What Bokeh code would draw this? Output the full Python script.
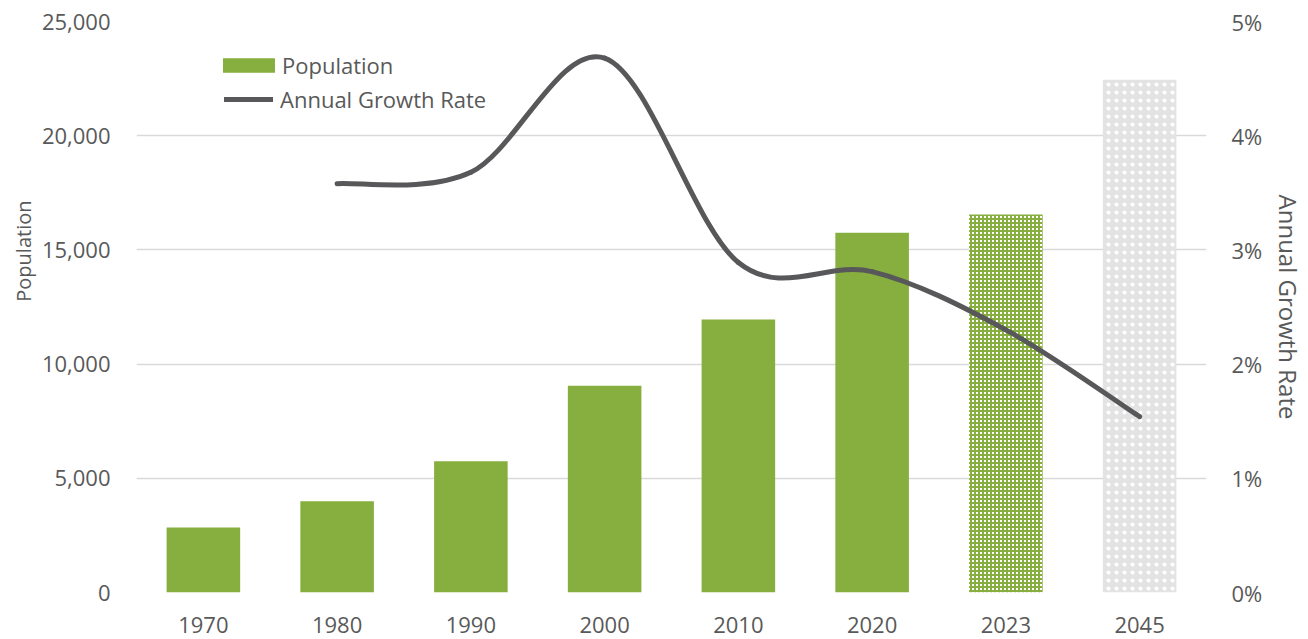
from bokeh.plotting import figure
from bokeh.models import (Range1d, LinearAxis, FixedTicker, NumeralTickFormatter,
                          PrintfTickFormatter, Legend, LegendItem, ColumnDataSource, Title)
from bokeh.embed import file_html
from bokeh.resources import INLINE

years = ["1970", "1980", "1990", "2000", "2010", "2020", "2023", "2045"]
population = [2850, 4000, 5750, 9050, 11950, 15750, 16550, 22450]
growth_pct = [None, 3.58, 3.68, 4.68, 2.89, 2.81, 2.30, 1.54]
pop_ticks = [0, 5000, 10000, 15000, 20000, 25000]
pct_ticks = [0, 1, 2, 3, 4, 5]

FONT = "Open Sans"
TXT = "#595959"
GREEN = "#86af3f"
GREY = "#e3e3e3"
LINE = "#58585a"

xs = list(range(len(years)))

p = figure(width=1308, height=639, output_backend="svg", toolbar_location=None,
           x_range=Range1d(-0.5, len(years) - 0.5), y_range=Range1d(0, 25000),
           min_border_left=136, min_border_right=100, min_border_top=21, min_border_bottom=47)
p.extra_y_ranges = {"pct": Range1d(0, 5)}
p.outline_line_color = None
p.background_fill_color = "white"
p.border_fill_color = "white"

# x axis
p.xaxis.ticker = FixedTicker(ticks=xs)
p.xaxis.major_label_overrides = {i: y for i, y in zip(xs, years)}
p.xaxis.axis_line_color = None
p.xaxis.major_tick_line_color = None
p.xaxis.minor_tick_line_color = None
p.xaxis.major_label_standoff = 18
p.xaxis.major_label_text_font = FONT
p.xaxis.major_label_text_font_size = "22px"
p.xaxis.major_label_text_color = TXT
p.xgrid.grid_line_color = None

# left axis
p.yaxis.ticker = FixedTicker(ticks=pop_ticks)
p.yaxis.formatter = NumeralTickFormatter(format="0,0")
p.yaxis.axis_line_color = None
p.yaxis.major_tick_line_color = None
p.yaxis.minor_tick_line_color = None
p.yaxis.major_label_standoff = 20
p.yaxis.major_label_text_font = FONT
p.yaxis.major_label_text_font_size = "22px"
p.yaxis.major_label_text_color = TXT
p.ygrid.ticker = FixedTicker(ticks=pop_ticks)
p.ygrid.grid_line_color = "#d9d9d9"
p.ygrid.grid_line_width = 1.5

p.add_layout(Title(text="Population", align="right", offset=179, vertical_align="top",
                   standoff=0, text_font=FONT, text_font_size="20px",
                   text_font_style="normal", text_color=TXT), "left")

# right axis
ra = LinearAxis(y_range_name="pct", ticker=FixedTicker(ticks=pct_ticks),
                formatter=PrintfTickFormatter(format="%d%%"))
ra.axis_line_color = None
ra.major_tick_line_color = None
ra.minor_tick_line_color = None
ra.major_label_standoff = 19
ra.major_label_text_font = FONT
ra.major_label_text_font_size = "22px"
ra.major_label_text_color = TXT
ra.axis_label = "Annual Growth Rate"
ra.axis_label_text_font = FONT
ra.axis_label_text_font_size = "24px"
ra.axis_label_text_font_style = "normal"
ra.axis_label_text_color = TXT
ra.axis_label_standoff = 7
p.add_layout(ra, "right")

W = 0.55
solid = slice(0, 6)
estimate = slice(6, 7)
projection = slice(7, 8)

bars = p.vbar(x=xs[solid], top=population[solid], width=W, fill_color=GREEN, line_color=None)
p.vbar(x=xs[estimate], top=population[estimate], width=W, fill_color="white", line_color=None,
       hatch_pattern="+", hatch_color=GREEN, hatch_weight=2, hatch_scale=4)
p.vbar(x=xs[projection], top=population[projection], width=W, fill_color=GREY, line_color=None,
       hatch_pattern=".", hatch_color="white", hatch_weight=1, hatch_scale=8)

# smoothed growth-rate line (cubic Bezier segments through the data points)
pts = [(x, g) for x, g in zip(xs, growth_pct) if g is not None]
seg = dict(x0=[], y0=[], x1=[], y1=[], cx0=[], cy0=[], cx1=[], cy1=[])
for k in range(len(pts) - 1):
    a = pts[k - 1] if k > 0 else pts[k]
    b = pts[k]
    c = pts[k + 1]
    d = pts[k + 2] if k + 2 < len(pts) else pts[k + 1]
    seg["x0"].append(b[0]); seg["y0"].append(b[1])
    seg["x1"].append(c[0]); seg["y1"].append(c[1])
    seg["cx0"].append(b[0] + (c[0] - a[0]) / 6); seg["cy0"].append(b[1] + (c[1] - a[1]) / 6)
    seg["cx1"].append(c[0] - (d[0] - b[0]) / 6); seg["cy1"].append(c[1] - (d[1] - b[1]) / 6)
p.bezier(x0="x0", y0="y0", x1="x1", y1="y1", cx0="cx0", cy0="cy0", cx1="cx1", cy1="cy1",
         source=ColumnDataSource(seg), y_range_name="pct", line_color=LINE, line_width=5,
         line_cap="round")

# legend key for the line (no visible data of its own)
line_key = p.line(x=[float("nan")], y=[float("nan")], line_color=LINE, line_width=5,
                  line_cap="round")

leg1 = Legend(items=[LegendItem(label="Population", renderers=[bars])],
              location=(80, 512), orientation="vertical", padding=0, margin=0,
              glyph_width=65, glyph_height=18, label_standoff=1,
              border_line_color=None, background_fill_alpha=0,
              label_text_font=FONT, label_text_font_size="22px", label_text_color=TXT)
leg2 = Legend(items=[LegendItem(label="Annual Growth Rate", renderers=[line_key])],
              location=(88, 478), orientation="vertical", padding=0, margin=0,
              glyph_width=49, glyph_height=18, label_standoff=7,
              border_line_color=None, background_fill_alpha=0,
              label_text_font=FONT, label_text_font_size="22px", label_text_color=TXT)
p.add_layout(leg1, "center")
p.add_layout(leg2, "center")

open("out.html", "w").write(file_html(p, INLINE))
